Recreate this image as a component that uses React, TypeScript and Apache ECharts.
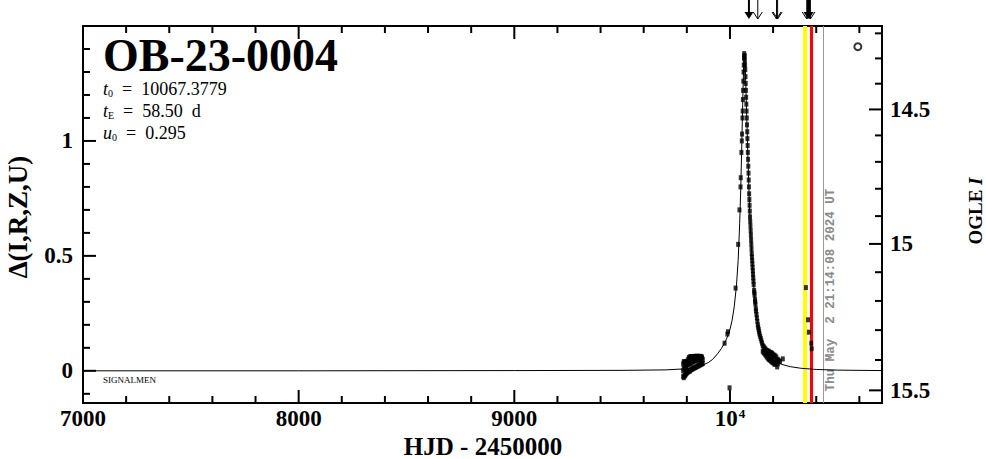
import React, { useEffect, useRef } from "react";
import * as echarts from "echarts";

const X_MIN = 7000;
const X_MAX = 10705;
const Y_MIN = -0.14;
const Y_MAX = 1.5;

const xMajorTicks = [7000, 8000, 9000, 10000];
const xMinorTicks = [7200, 7400, 7600, 7800, 8200, 8400, 8600, 8800, 9200, 9400, 9600, 9800, 10200, 10400, 10600];
const yMajorTicks = [0, 0.5, 1];
const yMinorTicks = [-0.1, 0.1, 0.2, 0.3, 0.4, 0.6, 0.7, 0.8, 0.9, 1.1, 1.2, 1.3, 1.4];

// OGLE I magnitude ticks and the Δ value at which each sits on the picture
const magMajor = [14.5, 15, 15.5];
const magMajorDelta = [1.137, 0.552, -0.085];
const magMinorDelta = [1.468, 1.359, 1.249, 1.024, 0.909, 0.792, 0.673, 0.429, 0.304, 0.177, 0.047];

// model light curve (HJD-2450000, Δ)
const modelCurve: number[][] = [
  [7000, 0], [8000, 0], [9000, 0.001], [9500, 0.002], [9700, 0.004], [9800, 0.009], [9850, 0.016],
  [9876, 0.026], [9900, 0.036], [9920, 0.05], [9944, 0.076], [9960, 0.097], [9976, 0.122], [9990, 0.152],
  [10000, 0.18], [10010, 0.22], [10020, 0.28], [10030, 0.37], [10038, 0.48], [10045, 0.64], [10050, 0.79],
  [10055, 0.99], [10059, 1.16], [10062, 1.28], [10065, 1.36], [10067, 1.38], [10069, 1.36], [10072, 1.29],
  [10076, 1.16], [10082, 0.97], [10090, 0.73], [10100, 0.52], [10112, 0.345], [10125, 0.225], [10140, 0.15],
  [10160, 0.092], [10185, 0.058], [10210, 0.04], [10240, 0.028], [10280, 0.018], [10330, 0.011],
  [10400, 0.006], [10500, 0.003], [10705, 0.001],
];

// 2022 season baseline observations
const obs2022: number[][] = [
  [9783, -0.025], [9783, 0.0], [9783, 0.03], [9786, -0.03], [9786, 0.01], [9786, 0.04],
  [9789, -0.02], [9789, 0.015], [9789, 0.038], [9792, -0.022], [9792, 0.005], [9792, 0.035],
  [9795, -0.015], [9795, 0.02], [9795, 0.04], [9798, -0.012], [9798, 0.012], [9798, 0.03],
  [9802, -0.008], [9802, 0.025], [9802, 0.042], [9806, -0.005], [9806, 0.03], [9806, 0.05],
  [9810, 0.0], [9810, 0.035], [9810, 0.058], [9814, -0.002], [9814, 0.028], [9814, 0.06],
  [9818, 0.004], [9818, 0.04], [9818, 0.062], [9822, 0.006], [9822, 0.032], [9822, 0.06],
  [9826, 0.008], [9826, 0.045], [9826, 0.062], [9830, 0.01], [9830, 0.038], [9830, 0.06],
  [9834, 0.012], [9834, 0.05], [9834, 0.063], [9838, 0.014], [9838, 0.042], [9838, 0.06],
  [9842, 0.016], [9842, 0.052], [9842, 0.062], [9846, 0.018], [9846, 0.045], [9846, 0.064],
  [9850, 0.02], [9850, 0.055], [9850, 0.062], [9854, 0.022], [9854, 0.048], [9854, 0.063],
  [9858, 0.024], [9858, 0.04], [9858, 0.062], [9862, 0.026], [9862, 0.05], [9862, 0.063],
  [9866, 0.028], [9866, 0.045], [9866, 0.062], [9870, 0.03], [9870, 0.055], [9870, 0.06],
  [9874, 0.032], [9874, 0.05],
];

// 2023 season (the event)
const obs2023: number[][] = [
  [9975, 0.12], [9988, 0.16], [9991, 0.17], [9998, -0.074], [10026, 0.36], [10038, 0.55], [10044, 0.7],
  [10049, 0.8], [10050, 0.84], [10053, 0.95], [10055, 1.0], [10056, 1.03],
  [10058, 1.1], [10059, 1.13], [10060, 1.18], [10061, 1.22], [10062, 1.26], [10063, 1.3],
  [10064, 1.33], [10065, 1.36], [10066, 1.38], [10067, 1.37], [10068, 1.37], [10069, 1.35], [10070, 1.33],
  [10071, 1.31], [10072, 1.28], [10073, 1.25], [10074, 1.22], [10075, 1.19], [10076, 1.16], [10077, 1.13],
  [10078, 1.1], [10079, 1.07], [10080, 1.04], [10081, 1.01], [10082, 0.98], [10083, 0.95], [10084, 0.92],
  [10085, 0.89], [10086, 0.86], [10087, 0.83], [10088, 0.8], [10089, 0.77], [10090, 0.745], [10091, 0.72],
  [10092, 0.695], [10093, 0.67], [10094, 0.65], [10095, 0.63], [10096, 0.61], [10097, 0.59], [10098, 0.57],
  [10099, 0.55], [10100, 0.53], [10101, 0.51], [10102, 0.495], [10103, 0.48], [10104, 0.465], [10105, 0.45],
  [10106, 0.435], [10107, 0.42], [10108, 0.405], [10109, 0.39], [10110, 0.375], [10112, 0.35], [10113, 0.34],
  [10114, 0.33], [10116, 0.31], [10117, 0.3], [10118, 0.29], [10120, 0.27], [10121, 0.26], [10123, 0.245],
  [10125, 0.23], [10127, 0.215], [10129, 0.2], [10131, 0.19], [10133, 0.18], [10135, 0.17], [10137, 0.16],
  [10140, 0.15], [10143, 0.14], [10146, 0.13], [10149, 0.12],
  [10152, 0.11], [10152, 0.085], [10156, 0.105], [10156, 0.08], [10160, 0.1], [10160, 0.075],
  [10164, 0.095], [10164, 0.07], [10164, 0.085], [10168, 0.09], [10168, 0.065], [10172, 0.088],
  [10172, 0.06], [10172, 0.075], [10176, 0.085], [10176, 0.055], [10180, 0.085], [10180, 0.05],
  [10180, 0.07], [10184, 0.08], [10184, 0.048], [10188, 0.08], [10188, 0.045], [10188, 0.062],
  [10192, 0.078], [10192, 0.04], [10196, 0.075], [10196, 0.038], [10196, 0.058], [10200, 0.07],
  [10200, 0.035], [10205, 0.068], [10205, 0.03], [10205, 0.05], [10210, 0.065], [10210, 0.028],
  [10215, 0.06], [10215, 0.04], [10219, 0.017], [10222, 0.05], [10222, 0.03], [10226, 0.045],
  [10232, 0.04], [10245, 0.052],
];

// 2024 season
const obs2024: number[][] = [
  [10352, 0.362], [10362, 0.222], [10366, 0.168], [10377, 0.12], [10379, 0.096],
];

const ogleMarker: number[][] = [[10593, 1.41]];

const yellowDay = 10348;
const redDay = 10378;
const nowDay = 10433;

const arrowDays = [10088, 10129, 10216, 10221, 10356, 10362, 10367, 10373];
const arrowFilled = [1, 0, 0, 0, 0, 1, 1, 0];

const SERIF = '"Liberation Serif", "Times New Roman", serif';

// frame ticks: value, side (0 bottom, 1 top, 2 left, 3 right), length
const tickValues: number[] = [];
const tickSides: number[] = [];
const tickLens: number[] = [];
function addTick(v: number, side: number, len: number) {
  tickValues.push(v);
  tickSides.push(side);
  tickLens.push(len);
}
xMajorTicks.forEach((v) => { addTick(v, 0, 13); addTick(v, 1, 13); });
xMinorTicks.forEach((v) => { addTick(v, 0, 7); addTick(v, 1, 7); });
yMajorTicks.forEach((v) => addTick(v, 2, 13));
yMinorTicks.forEach((v) => addTick(v, 2, 7));
magMajorDelta.forEach((v) => addTick(v, 3, 13));
magMinorDelta.forEach((v) => addTick(v, 3, 7));

function nearestMag(v: number) {
  let best = 0;
  for (let i = 1; i < magMajorDelta.length; i++) {
    if (Math.abs(magMajorDelta[i] - v) < Math.abs(magMajorDelta[best] - v)) best = i;
  }
  return String(magMajor[best]);
}

const labelFont = { color: "#000", fontFamily: SERIF, fontWeight: "bold", fontSize: 23 };

export default function App() {
  const ref = useRef<HTMLDivElement>(null);
  useEffect(() => {
    const chart = echarts.init(ref.current!, null, { renderer: "svg" });
    const option: any = {
      animation: false,
      backgroundColor: "#fff",
      grid: { left: 83, right: 104, top: 26, bottom: 56, containLabel: false },
      xAxis: [
        {
          type: "value", position: "bottom", min: X_MIN, max: X_MAX,
          axisLine: { show: true, onZero: false, lineStyle: { color: "#000", width: 2 } },
          axisTick: { show: false },
          axisLabel: {
            show: true, customValues: xMajorTicks, margin: 4, ...labelFont,
            formatter: (v: number) => (v === 10000 ? "{b|10}{s|4}" : String(v)),
            rich: {
              b: { ...labelFont },
              s: { fontFamily: SERIF, fontWeight: "bold", fontSize: 13, color: "#000", verticalAlign: "top", padding: [0, 0, 10, 1] },
            },
          },
          splitLine: { show: false },
        },
        {
          type: "value", position: "top", min: X_MIN, max: X_MAX,
          axisLine: { show: true, onZero: false, lineStyle: { color: "#000", width: 2 } },
          axisTick: { show: false }, axisLabel: { show: false }, splitLine: { show: false },
        },
      ],
      yAxis: [
        {
          type: "value", position: "left", min: Y_MIN, max: Y_MAX,
          axisLine: { show: true, onZero: false, lineStyle: { color: "#000", width: 2 } },
          axisTick: { show: false },
          axisLabel: { show: true, customValues: yMajorTicks, margin: 10, ...labelFont, formatter: (v: number) => String(v) },
          splitLine: { show: false },
        },
        {
          type: "value", position: "right", min: Y_MIN, max: Y_MAX,
          axisLine: { show: true, onZero: false, lineStyle: { color: "#000", width: 2 } },
          axisTick: { show: false },
          axisLabel: { show: true, customValues: magMajorDelta, margin: 8, ...labelFont, formatter: nearestMag },
          splitLine: { show: false },
        },
      ],
      series: [
        {
          type: "line",
          name: "model",
          xAxisIndex: 0,
          yAxisIndex: 0,
          data: modelCurve,
          showSymbol: false,
          symbol: "none",
          lineStyle: { color: "#000", width: 1 },
          z: 2,
          markLine: {
            silent: true,
            symbol: "none",
            z: 1,
            label: { show: false },
            data: [
              { xAxis: yellowDay, lineStyle: { color: "#ffff00", width: 4, type: "solid" } },
              { xAxis: redDay, lineStyle: { color: "#ff0000", width: 3, type: "solid" } },
              { xAxis: nowDay, lineStyle: { color: "#999999", width: 1, type: "solid" } },
            ],
          },
        },
        ...[obs2022, obs2023, obs2024].map((d) => ({
          type: "scatter",
          xAxisIndex: 0,
          yAxisIndex: 0,
          data: d,
          symbol: "rect",
          symbolSize: [4, 5],
          itemStyle: { color: "#000" },
          z: 10,
        })),
        {
          type: "scatter",
          xAxisIndex: 0,
          yAxisIndex: 0,
          data: ogleMarker,
          symbol: "emptyCircle",
          symbolSize: 7,
          itemStyle: { color: "#000", borderColor: "#000", borderWidth: 2.5 },
          z: 10,
        },
        {
          // frame ticks: each item sits inside the plot; the tick itself is placed from its index
          type: "custom",
          xAxisIndex: 0,
          yAxisIndex: 0,
          clip: false,
          silent: true,
          data: tickValues.map(() => [8500, 0.5]),
          renderItem: (params: any, api: any) => {
            const i = params.dataIndex;
            const v = tickValues[i];
            const side = tickSides[i];
            const len = tickLens[i];
            let p;
            let q;
            if (side === 0) { p = api.coord([v, Y_MIN]); q = [p[0], p[1] - len]; }
            else if (side === 1) { p = api.coord([v, Y_MAX]); q = [p[0], p[1] + len]; }
            else if (side === 2) { p = api.coord([X_MIN, v]); q = [p[0] + len, p[1]]; }
            else { p = api.coord([X_MAX, v]); q = [p[0] - len, p[1]]; }
            return {
              type: "group",
              children: [
                { type: "line", shape: { x1: p[0], y1: p[1], x2: q[0], y2: q[1] }, style: { stroke: "#000", lineWidth: 2 } },
              ],
            };
          },
          z: 12,
        },
        {
          type: "custom",
          xAxisIndex: 0,
          yAxisIndex: 0,
          clip: false,
          silent: true,
          data: arrowDays.map((d, i) => [d, arrowFilled[i]]),
          renderItem: (_params: any, api: any) => {
            const p = api.coord([api.value(0), Y_MAX]);
            const x = p[0];
            const tip = p[1] - 7;
            const head = 7;
            const half = 4.5;
            if (api.value(1) === 1) {
              return {
                type: "group",
                children: [
                  { type: "line", shape: { x1: x, y1: 0, x2: x, y2: tip - head + 1 }, style: { stroke: "#000", lineWidth: 2 } },
                  { type: "polygon", shape: { points: [[x - half, tip - head], [x + half, tip - head], [x, tip]] }, style: { fill: "#000" } },
                ],
              };
            }
            return {
              type: "group",
              children: [
                { type: "line", shape: { x1: x, y1: 0, x2: x, y2: tip }, style: { stroke: "#000", lineWidth: 1 } },
                { type: "polyline", shape: { points: [[x - half, tip - head], [x, tip], [x + half, tip - head]] }, style: { stroke: "#000", lineWidth: 1, fill: null } },
              ],
            };
          },
          z: 5,
        },
      ],
    };
    chart.setOption(option);

    const gx = Number(chart.convertToPixel({ xAxisIndex: 0 }, nowDay));
    const paramRich = {
      i: { fontFamily: SERIF, fontStyle: "italic", fontSize: 18, color: "#000", lineHeight: 18 },
      s: { fontFamily: SERIF, fontSize: 10, color: "#000", verticalAlign: "bottom", lineHeight: 18 },
      n: { fontFamily: SERIF, fontSize: 18, color: "#000", lineHeight: 18 },
    };
    chart.setOption({
      graphic: [
        { type: "text", x: 103, y: 55, style: { text: "OB-23-0004", font: `bold 46px ${SERIF}`, lineHeight: 36, fill: "#000", verticalAlign: "middle" } },
        { type: "text", x: 103, y: 89, style: { text: "{i|t}{s|0}{n|  =  10067.3779}", rich: paramRich, verticalAlign: "middle" } },
        { type: "text", x: 103, y: 111, style: { text: "{i|t}{s|E}{n|  =  58.50  d}", rich: paramRich, verticalAlign: "middle" } },
        { type: "text", x: 103, y: 133, style: { text: "{i|u}{s|0}{n|  =  0.295}", rich: paramRich, verticalAlign: "middle" } },
        { type: "text", x: 103, y: 380, style: { text: "SIGNALMEN", font: `9px ${SERIF}`, fill: "#000", verticalAlign: "middle" } },
        { type: "text", x: 18, y: 217, rotation: Math.PI / 2, style: { text: "Δ(I,R,Z,U)", font: `bold 27px ${SERIF}`, fill: "#000", align: "center", verticalAlign: "middle" } },
        {
          type: "text", x: 975, y: 211, rotation: Math.PI / 2,
          style: {
            text: "{a|OGLE }{b|I}", align: "center", verticalAlign: "middle",
            rich: {
              a: { fontFamily: SERIF, fontWeight: "bold", fontSize: 19, color: "#000" },
              b: { fontFamily: SERIF, fontWeight: "bold", fontStyle: "italic", fontSize: 19, color: "#000" },
            },
          },
        },
        { type: "text", x: 483, y: 446, style: { text: "HJD - 2450000", font: `bold 25px ${SERIF}`, fill: "#000", align: "center", verticalAlign: "middle" } },
        { type: "text", x: gx + 8, y: 290, rotation: Math.PI / 2, style: { text: "Thu May  2 21:14:08 2024 UT", font: `bold 12.5px "Liberation Mono", monospace`, fill: "#8a8a8a", align: "center", verticalAlign: "middle" } },
      ],
    });
    return () => chart.dispose();
  }, []);
  return <div ref={ref} style={{ position: "absolute", left: 0, top: 0, width: 986, height: 459, background: "#fff" }} />;
}
